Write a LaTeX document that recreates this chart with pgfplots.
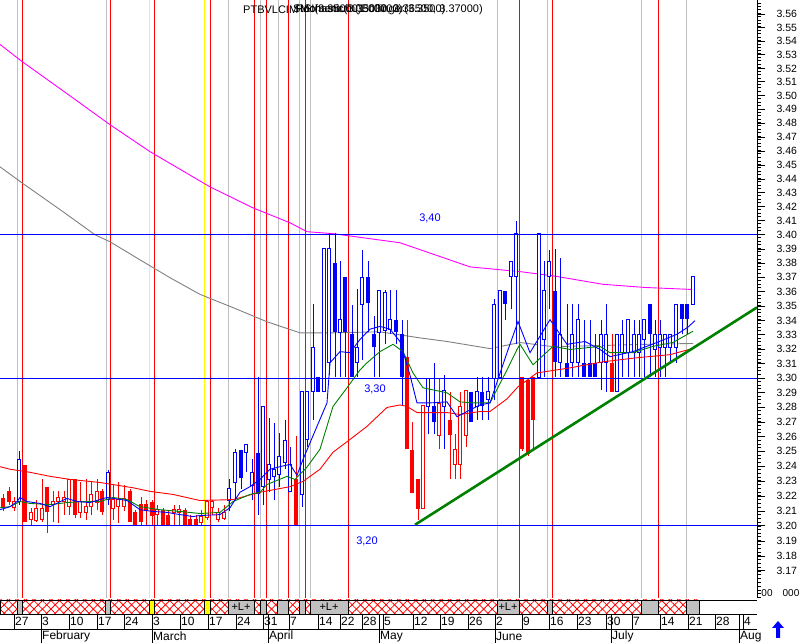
\documentclass[border=0pt]{standalone}
\usepackage{fontspec}
\setmainfont{Liberation Sans}
\usepackage{pgfplots}
\usepackage{pgfplotstable}
\pgfplotsset{compat=1.18}
\usetikzlibrary{patterns.meta}

\definecolor{cRed}{RGB}{255,0,0}
\definecolor{cBlue}{RGB}{0,0,255}
\definecolor{cMag}{RGB}{255,0,255}
\definecolor{cGray}{RGB}{128,128,128}
\definecolor{cGreen}{RGB}{0,128,0}
\definecolor{lGray}{RGB}{192,192,192}
\definecolor{cYel}{RGB}{255,255,0}

% candles: x = column, lo/hi = wick, olo/ohi = body
\pgfplotstableread{
x lo hi olo ohi
3 3.2094 3.2209 3.2121 3.2182
9 3.2142 3.2263 3.2162 3.2229
25 3.2027 3.2405 3.2027 3.2405
47 3.1953 3.2263 3.2088 3.2263
75 3.2054 3.2310 3.2074 3.2310
102 3.2074 3.2243 3.2088 3.2229
130 3.2027 3.2243 3.2027 3.2229
135 3.2006 3.2108 3.2006 3.2088
141 3.2006 3.2189 3.2027 3.2148
146 3.2006 3.2175 3.2094 3.2148
152 3.2006 3.2175 3.2068 3.2162
163 3.2006 3.2121 3.2006 3.2108
168 3.2006 3.2094 3.2006 3.2074
185 3.2006 3.2121 3.2006 3.2108
190 3.2006 3.2074 3.2006 3.2047
196 3.2006 3.2074 3.2006 3.2047
296 3.2006 3.2601 3.2006 3.2310
407 3.2513 3.3405 3.2513 3.3147
412 3.2216 3.2703 3.2216 3.2507
418 3.2040 3.2310 3.2115 3.2310
450 3.2310 3.2905 3.2608 3.2710
522 3.2500 3.3007 3.2513 3.3007
528 3.2466 3.3000 3.2480 3.2986
533 3.2500 3.3007 3.2716 3.3007
612 3.2905 3.3301 3.2905 3.3105
}\redfull

\pgfplotstableread{
x lo hi olo ohi
14 3.2094 3.2189 3.2121 3.2162
31 3.2006 3.2121 3.2040 3.2088
36 3.2027 3.2175 3.2033 3.2115
42 3.2027 3.2310 3.2040 3.2115
53 3.2027 3.2229 3.2142 3.2162
58 3.2020 3.2229 3.2162 3.2189
64 3.2074 3.2229 3.2162 3.2189
69 3.2074 3.2310 3.2128 3.2310
80 3.2054 3.2290 3.2088 3.2162
86 3.2040 3.2310 3.2088 3.2128
91 3.2074 3.2290 3.2128 3.2209
97 3.2108 3.2310 3.2155 3.2229
113 3.2040 3.2277 3.2115 3.2175
118 3.2020 3.2290 3.2128 3.2175
124 3.2094 3.2277 3.2128 3.2182
157 3.2006 3.2142 3.2074 3.2108
174 3.2006 3.2142 3.2088 3.2108
179 3.2006 3.2142 3.2088 3.2108
201 3.2006 3.2108 3.2020 3.2061
207 3.2040 3.2175 3.2054 3.2162
212 3.2074 3.2175 3.2121 3.2162
218 3.2027 3.2121 3.2040 3.2088
224 3.2040 3.2142 3.2047 3.2088
423 3.2115 3.2811 3.2115 3.2811
439 3.2513 3.3000 3.2608 3.2824
455 3.2310 3.2615 3.2412 3.2513
460 3.2310 3.2905 3.2412 3.2804
466 3.2527 3.2912 3.2608 3.2912
}\redhollow

\pgfplotstableread{
x lo hi olo ohi
241 3.2243 3.2507 3.2317 3.2507
258 3.2074 3.3007 3.2209 3.2487
318 3.2905 3.3007 3.2905 3.3007
335 3.3007 3.4014 3.3315 3.3804
345 3.3007 3.3699 3.3315 3.3699
352 3.3007 3.3503 3.3007 3.3301
368 3.3315 3.3811 3.3517 3.3699
374 3.3007 3.3426 3.3210 3.3301
396 3.3231 3.3608 3.3315 3.3405
402 3.2804 3.3405 3.3007 3.3301
434 3.2615 3.3105 3.2703 3.2804
471 3.2703 3.2905 3.2703 3.2905
482 3.2716 3.3007 3.2804 3.2905
505 3.3405 3.3601 3.3510 3.3601
555 3.3007 3.3902 3.3112 3.3601
567 3.3007 3.3510 3.3007 3.3105
584 3.3007 3.3405 3.3007 3.3105
590 3.3007 3.3405 3.3007 3.3105
595 3.3007 3.3301 3.3007 3.3105
650 3.3007 3.3510 3.3301 3.3510
682 3.3301 3.3510 3.3412 3.3510
687 3.3301 3.3510 3.3412 3.3510
}\bluefull

\pgfplotstableread{
x lo hi olo ohi
19 3.2142 3.2500 3.2162 3.2446
108 3.2142 3.2371 3.2175 3.2358
229 3.2094 3.2310 3.2169 3.2250
235 3.2175 3.2513 3.2290 3.2493
246 3.2358 3.2547 3.2493 3.2547
252 3.2175 3.2446 3.2270 3.2358
263 3.2142 3.2804 3.2263 3.2804
269 3.2223 3.2730 3.2310 3.2412
274 3.2175 3.2696 3.2331 3.2378
279 3.2263 3.2628 3.2344 3.2466
285 3.2378 3.2716 3.2425 3.2574
290 3.2223 3.2527 3.2229 3.2412
302 3.2128 3.2905 3.2209 3.2905
307 3.2527 3.2905 3.2581 3.2905
313 3.2716 3.3510 3.2905 3.3210
324 3.2905 3.3902 3.2905 3.3902
329 3.3021 3.4014 3.3105 3.3902
340 3.3007 3.3811 3.3315 3.3405
357 3.3007 3.3615 3.3105 3.3210
362 3.3126 3.3895 3.3510 3.3699
379 3.3007 3.3608 3.3315 3.3608
385 3.3231 3.3608 3.3329 3.3594
390 3.3301 3.3608 3.3336 3.3405
428 3.2615 3.3000 3.2804 3.3000
444 3.2513 3.3021 3.2804 3.2912
477 3.2716 3.3007 3.2804 3.2905
488 3.2716 3.3007 3.2851 3.2905
494 3.2851 3.3545 3.3000 3.3510
500 3.3007 3.3608 3.3007 3.3608
511 3.3475 3.3811 3.3706 3.3811
516 3.3231 3.4097 3.3706 3.4007
539 3.3007 3.4007 3.3007 3.4007
544 3.3007 3.3811 3.3266 3.3608
549 3.3475 3.3895 3.3706 3.3811
560 3.3007 3.3839 3.3105 3.3301
572 3.3007 3.3510 3.3105 3.3301
578 3.3007 3.3510 3.3105 3.3405
601 3.2919 3.3405 3.3105 3.3301
606 3.2905 3.3510 3.3105 3.3301
617 3.2905 3.3301 3.2905 3.3301
622 3.3007 3.3405 3.3175 3.3301
628 3.3007 3.3405 3.3175 3.3405
634 3.3007 3.3405 3.3175 3.3301
639 3.3007 3.3405 3.3175 3.3301
644 3.3007 3.3405 3.3266 3.3405
655 3.3007 3.3405 3.3196 3.3301
660 3.3007 3.3405 3.3210 3.3301
665 3.3007 3.3301 3.3210 3.3301
670 3.3105 3.3301 3.3210 3.3301
676 3.3105 3.3510 3.3210 3.3510
693 3.3510 3.3706 3.3510 3.3706
}\bluehollow

\pgfplotsset{
  wick/.style={draw=none, mark=none, forget plot,
    error bars/.cd, y dir=plus, y explicit, error mark=none,
    error bar style={line width=1pt, draw=#1}},
  fullbody/.style={draw=none, mark=none, forget plot,
    error bars/.cd, y dir=plus, y explicit, error mark=none,
    error bar style={line width=4.4pt, draw=#1}},
  hollowin/.style={draw=none, mark=none, forget plot,
    error bars/.cd, y dir=both, y explicit, error mark=-,
    error bar style={line width=2.4pt, draw=white},
    error mark options={rotate=90, line width=1pt, draw=#1, mark size=2.2pt}},
}

\begin{document}
\begin{tikzpicture}
\path[use as bounding box] (0pt,0pt) rectangle (804pt,643pt);

\begin{axis}[
  at={(0pt,45pt)}, anchor=south west,
  scale only axis, width=757pt, height=598pt,
  xmin=0, xmax=757,
  ymode=log, ymin=3.1524, ymax=3.5706,
  axis x line=none, axis y line*=right,
  y axis line style={line width=1pt, -},
  ytick={3.17,3.18,...,3.5601},
  minor ytick={3.1525,3.155,...,3.5701},
  yticklabel={\pgfmathparse{exp(\tick)}\pgfmathprintnumber[fixed,precision=2,fixed zerofill,assume math mode=true]{\pgfmathresult}},
  tick align=outside,
  major tick length=8pt, minor tick length=4pt,
  tick style={black, line width=0.8pt},
  yticklabel style={font=\fontsize{10.5}{12}\selectfont, xshift=8pt},
  clip mode=individual,
]
% event lines
\pgfplotsinvokeforeach{17,106,228,260,278,299,310,497,547,641,686}{
  \draw[lGray, line width=1pt] (axis cs:#1,3.1524) -- (axis cs:#1,3.5706);}
\pgfplotsinvokeforeach{149,204}{
  \draw[cYel, line width=1pt] (axis cs:#1,3.1524) -- (axis cs:#1,3.5706);}
\pgfplotsinvokeforeach{22,110,154,210,254,266,288,305,348,519,552,658}{
  \draw[cRed, line width=1pt] (axis cs:#1,3.1524) -- (axis cs:#1,3.5706);}
\draw[line width=1pt] (rel axis cs:0,1) -- (rel axis cs:1,1);

% long averages
\addplot[cMag, line width=0.9pt] coordinates {(0,3.5373) (22,3.5249) (60,3.5050) (110,3.4788) (150,3.4593) (210,3.4342) (253,3.4192) (290,3.4085) (307,3.4021) (333,3.4007) (400,3.3943) (470,3.3774) (520,3.3739) (553,3.3711) (603,3.3648) (645,3.3627) (695,3.3613)};
\addplot[cGray, line width=0.9pt] coordinates {(0,3.4485) (22,3.4370) (60,3.4178) (95,3.4000) (110,3.3950) (140,3.3823) (170,3.3697) (200,3.3578) (233,3.3487) (267,3.3389) (300,3.3313) (333,3.3313) (380,3.3320) (420,3.3278) (447,3.3251) (490,3.3202) (520,3.3244) (553,3.3216) (600,3.3223) (637,3.3230) (693,3.3237)};

% candles
\addplot[wick=cRed] table[x=x, y=lo, y error expr=\thisrow{hi}-\thisrow{lo}] {\redfull};
\addplot[wick=cRed] table[x=x, y=lo, y error expr=\thisrow{hi}-\thisrow{lo}] {\redhollow};
\addplot[wick=cBlue] table[x=x, y=lo, y error expr=\thisrow{hi}-\thisrow{lo}] {\bluefull};
\addplot[wick=cBlue] table[x=x, y=lo, y error expr=\thisrow{hi}-\thisrow{lo}] {\bluehollow};
\addplot[fullbody=cRed] table[x=x, y=olo, y error expr=\thisrow{ohi}-\thisrow{olo}] {\redfull};
\addplot[fullbody=cBlue] table[x=x, y=olo, y error expr=\thisrow{ohi}-\thisrow{olo}] {\bluefull};
\addplot[fullbody=cRed] table[x=x, y=olo, y error expr=\thisrow{ohi}-\thisrow{olo}] {\redhollow};
\addplot[fullbody=cBlue] table[x=x, y=olo, y error expr=\thisrow{ohi}-\thisrow{olo}] {\bluehollow};
\addplot[hollowin=cRed] table[x=x, y=olo, y error plus expr=\thisrow{ohi}-\thisrow{olo}, y error minus expr=0] {\redhollow};
\addplot[hollowin=cBlue] table[x=x, y=olo, y error plus expr=\thisrow{ohi}-\thisrow{olo}, y error minus expr=0] {\bluehollow};

% short averages
\addplot[cRed, line width=0.9pt] coordinates {(0,3.2398) (10,3.2378) (30,3.2358) (50,3.2331) (70,3.2311) (100,3.2290) (133,3.2256) (150,3.2229) (173,3.2209) (200,3.2169) (233,3.2175) (260,3.2223) (290,3.2263) (303,3.2297) (320,3.2378) (333,3.2493) (350,3.2581) (367,3.2669) (387,3.2797) (400,3.2817) (407,3.2804) (417,3.2763) (447,3.2763) (460,3.2750) (480,3.2770) (490,3.2770) (507,3.2858) (518,3.2939) (537,3.3035) (570,3.3070) (603,3.3112) (637,3.3140) (670,3.3161) (693,3.3203)};
\addplot[cGreen, line width=0.9pt] coordinates {(0,3.2121) (10,3.2128) (20,3.2162) (30,3.2149) (50,3.2142) (67,3.2155) (83,3.2162) (100,3.2162) (113,3.2189) (127,3.2175) (140,3.2128) (160,3.2108) (180,3.2094) (200,3.2081) (220,3.2088) (233,3.2162) (250,3.2209) (260,3.2223) (267,3.2277) (287,3.2331) (295,3.2311) (307,3.2392) (320,3.2513) (333,3.2804) (347,3.2932) (360,3.3056) (367,3.3105) (380,3.3182) (393,3.3231) (403,3.3182) (413,3.3035) (423,3.2932) (447,3.2899) (460,3.2838) (473,3.2831) (490,3.2831) (507,3.3056) (517,3.3196) (520,3.3231) (533,3.3091) (553,3.3217) (570,3.3196) (600,3.3217) (610,3.3175) (633,3.3175) (653,3.3217) (673,3.3245) (693,3.3322)};
\addplot[cBlue, line width=0.9pt] coordinates {(0,3.2108) (10,3.2128) (17,3.2162) (20,3.2189) (27,3.2162) (40,3.2149) (50,3.2128) (67,3.2183) (77,3.2162) (90,3.2155) (107,3.2189) (127,3.2169) (140,3.2108) (153,3.2094) (167,3.2088) (180,3.2074) (193,3.2061) (200,3.2068) (220,3.2074) (230,3.2122) (240,3.2223) (250,3.2263) (260,3.2311) (270,3.2378) (280,3.2398) (290,3.2412) (297,3.2338) (303,3.2446) (317,3.2669) (327,3.2831) (330,3.3105) (340,3.3182) (350,3.3175) (360,3.3266) (370,3.3336) (380,3.3357) (390,3.3336) (400,3.3252) (410,3.3021) (417,3.2831) (430,3.2831) (447,3.2838) (457,3.2736) (467,3.2770) (480,3.2817) (490,3.2831) (507,3.3175) (518,3.3391) (530,3.3175) (550,3.3405) (567,3.3231) (585,3.3252) (600,3.3196) (610,3.3147) (633,3.3182) (657,3.3245) (677,3.3301) (688,3.3350) (695,3.3398)};

% levels and trend
\addplot[cBlue, line width=1pt] coordinates {(0,3.40) (757,3.40)};
\addplot[cBlue, line width=1pt] coordinates {(0,3.30) (757,3.30)};
\addplot[cBlue, line width=1pt] coordinates {(0,3.20) (757,3.20)};
\addplot[cGreen, line width=2.6pt] coordinates {(415,3.2007) (757,3.3489)};

\node[cBlue, font=\fontsize{11}{12}\selectfont] at (axis cs:430,3.4113) {3,40};
\node[cBlue, font=\fontsize{11}{12}\selectfont] at (axis cs:375,3.2919) {3,30};
\node[cBlue, font=\fontsize{11}{12}\selectfont] at (axis cs:367,3.1898) {3,20};

% header: overlapping indicator captions, as in the source window
\node[anchor=west, inner sep=0pt, font=\fontsize{11}{12}\selectfont] at (axis cs:243,3.5632) {PTBVLCIM};
\node[anchor=west, inner sep=0pt, font=\fontsize{11}{12}\selectfont] at (axis cs:293,3.5632) {Stochastic(3.35030, 3.36500, 3.37000)};
\node[anchor=west, inner sep=0pt, font=\fontsize{11}{12}\selectfont] at (axis cs:296,3.5632) {RSI(3.35000)Bollinger(3.3500)};
\node[anchor=west, inner sep=0pt, font=\fontsize{11}{12}\selectfont] at (axis cs:300,3.5632) {Momentum(1.00000)};
\end{axis}

\begin{axis}[
  at={(0pt,0pt)}, anchor=south west,
  scale only axis, width=757pt, height=45pt,
  xmin=0, xmax=757, ymin=0, ymax=45,
  hide axis, clip=false,
]
\fill[pattern={Lines[angle=45,distance=6pt,line width=0.8pt]}, pattern color=cRed] (axis cs:0,29) rectangle (axis cs:699,43);
\fill[pattern={Lines[angle=-45,distance=6pt,line width=0.8pt]}, pattern color=cRed] (axis cs:0,29) rectangle (axis cs:699,43);
\filldraw[fill=lGray, draw=black] (axis cs:17,29) rectangle (axis cs:22,43);
\filldraw[fill=lGray, draw=black] (axis cs:105,29) rectangle (axis cs:110,43);
\filldraw[fill=cYel, draw=black] (axis cs:149,29) rectangle (axis cs:154,43);
\filldraw[fill=cYel, draw=black] (axis cs:204,29) rectangle (axis cs:210,43);
\filldraw[fill=lGray, draw=black] (axis cs:228,29) rectangle (axis cs:254,43);
\filldraw[fill=lGray, draw=black] (axis cs:260,29) rectangle (axis cs:266,43);
\filldraw[fill=lGray, draw=black] (axis cs:277,29) rectangle (axis cs:288,43);
\filldraw[fill=lGray, draw=black] (axis cs:299,29) rectangle (axis cs:305,43);
\filldraw[fill=lGray, draw=black] (axis cs:310,29) rectangle (axis cs:348,43);
\filldraw[fill=lGray, draw=black] (axis cs:497,29) rectangle (axis cs:519,43);
\filldraw[fill=lGray, draw=black] (axis cs:547,29) rectangle (axis cs:552,43);
\filldraw[fill=lGray, draw=black] (axis cs:641,29) rectangle (axis cs:658,43);
\filldraw[fill=lGray, draw=black] (axis cs:686,29) rectangle (axis cs:699,43);
\node[font=\fontsize{11}{12}\selectfont, inner sep=0pt] at (axis cs:241,36) {+L+};
\node[font=\fontsize{11}{12}\selectfont, inner sep=0pt] at (axis cs:329,36) {+L+};
\node[font=\fontsize{11}{12}\selectfont, inner sep=0pt] at (axis cs:508,36) {+L+};
\draw (axis cs:0,29) -- (axis cs:0,43);
\draw (axis cs:699,29) -- (axis cs:699,43);
\draw (axis cs:0,43) -- (axis cs:757,43);
\draw (axis cs:0,29) -- (axis cs:757,29);
\draw (axis cs:0,14) -- (axis cs:757,14);
\foreach \p/\t in {14/27,41/3,69/10,97/17,124/24,152/3,180/10,208/17,236/24,263/31,289/7,318/14,340/22,362/28,383/5,413/12,440/19,468/26,495/2,522/9,549/16,577/23,606/30,632/7,660/14,688/21,715/28,743/4}{
  \edef\tmp{\noexpand\draw (axis cs:\p,29) -- (axis cs:\p,14);
  \noexpand\node[anchor=west, inner sep=1pt, font=\noexpand\fontsize{12}{13}\noexpand\selectfont] at (axis cs:\p,21.5) {\t};}\tmp}
\foreach \p/\t in {41/February,152/March,268/April,379/May,495/June,611/July,739/Aug}{
  \edef\tmp{\noexpand\draw (axis cs:\p,29) -- (axis cs:\p,0);
  \noexpand\node[anchor=west, inner sep=1pt, font=\noexpand\fontsize{12}{13}\noexpand\selectfont] at (axis cs:\p,6.5) {\t};}\tmp}
\fill[cBlue] (axis cs:778,22) -- (axis cs:772,15) -- (axis cs:776,15) -- (axis cs:776,5) -- (axis cs:780,5) -- (axis cs:780,15) -- (axis cs:784,15) -- cycle;
\node[font=\fontsize{10}{12}\selectfont, inner sep=0pt] at (axis cs:767,50) {00};
\node[font=\fontsize{10}{12}\selectfont, inner sep=0pt] at (axis cs:791,50) {000};
\end{axis}
\end{tikzpicture}
\end{document}
